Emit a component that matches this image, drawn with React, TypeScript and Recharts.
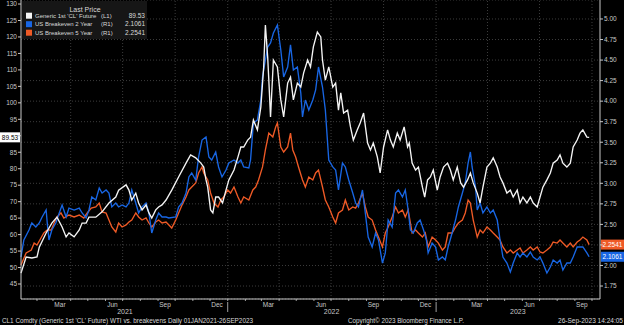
import { LineChart, Line, XAxis, YAxis, CartesianGrid, ReferenceLine } from 'recharts'

// days are counted from 1 Jan 2021
const wtiDays = [3, 12, 22, 31, 35, 47, 57, 66, 75, 82, 87, 96, 105, 110, 117, 122, 134, 145, 157, 169, 174, 187, 192, 197, 204, 209, 215, 222, 227, 232, 239, 244, 250, 257, 267, 279, 292, 300, 309, 318, 323, 327, 330, 335, 339, 344, 349, 356, 362, 367, 376, 383, 388, 393, 400, 405, 410, 417, 423, 428, 431, 435, 437, 440, 445, 452, 458, 463, 470, 475, 480, 487, 493, 498, 505, 510, 515, 522, 528, 531, 536, 542, 549, 554, 559, 563, 568, 575, 580, 585, 592, 597, 603, 610, 615, 620, 627, 632, 638, 645, 650, 655, 662, 667, 674, 680, 683, 688, 694, 699, 706, 710, 715, 720, 725, 732, 737, 743, 750, 755, 760, 767, 773, 778, 785, 790, 795, 802, 807, 812, 819, 825, 830, 837, 842, 847, 854, 860, 865, 872, 877, 882, 889, 895, 900, 907, 912, 917, 924, 930, 935, 942, 947, 952, 959, 965, 970, 977, 982, 987, 994, 998]
const wtiPrice = [48.3, 53.2, 52.9, 53.2, 56.2, 60.5, 63.5, 65.3, 62.3, 59.3, 60.5, 59.3, 61.4, 63.5, 63.5, 65.3, 65.3, 66.9, 69.6, 71.4, 73.5, 75.1, 73.5, 70.5, 72.6, 69.6, 67.5, 69.0, 66.6, 65.0, 67.5, 68.4, 69.0, 70.5, 73.5, 77.5, 81.7, 84.2, 83.3, 81.7, 80.5, 76.6, 74.4, 67.5, 66.6, 71.4, 71.4, 69.6, 73.5, 76.6, 79.6, 83.6, 86.6, 86.6, 88.7, 89.6, 94.8, 91.8, 98.7, 110.9, 123.6, 113.9, 106.9, 95.7, 113.0, 110.9, 100.9, 95.7, 106.0, 107.8, 100.9, 106.0, 104.8, 109.1, 113.0, 110.9, 117.0, 121.5, 120.0, 113.0, 106.9, 110.9, 104.8, 106.0, 97.8, 103.0, 96.9, 97.8, 92.7, 88.7, 91.8, 93.9, 96.9, 87.8, 85.7, 87.8, 83.6, 78.7, 86.6, 91.8, 88.7, 86.6, 90.8, 88.7, 92.7, 86.6, 87.8, 81.7, 79.6, 80.5, 74.4, 71.4, 76.6, 77.5, 79.6, 73.5, 77.5, 80.5, 81.7, 79.6, 76.6, 80.5, 75.7, 74.4, 76.6, 78.7, 75.7, 72.6, 69.6, 74.4, 80.5, 81.7, 83.3, 80.5, 77.5, 75.7, 72.6, 73.5, 71.4, 73.5, 69.6, 71.4, 69.6, 71.4, 69.6, 68.4, 71.4, 74.4, 76.6, 78.7, 81.7, 82.6, 84.2, 81.7, 80.5, 81.7, 86.6, 88.7, 90.8, 91.8, 89.6, 89.53]

const be2Days = [3, 8, 17, 22, 29, 35, 40, 47, 49, 52, 57, 64, 70, 75, 82, 87, 96, 105, 110, 117, 122, 127, 134, 140, 145, 152, 157, 162, 169, 174, 180, 187, 192, 197, 204, 209, 215, 222, 227, 232, 239, 244, 250, 257, 262, 274, 279, 285, 292, 297, 302, 309, 314, 320, 327, 332, 337, 344, 349, 355, 362, 367, 376, 383, 388, 393, 402, 405, 410, 417, 423, 426, 428, 435, 440, 445, 452, 458, 463, 470, 475, 480, 487, 493, 496, 501, 507, 514, 519, 524, 531, 536, 542, 549, 554, 559, 566, 571, 577, 584, 589, 594, 601, 606, 611, 618, 624, 629, 636, 641, 646, 653, 659, 664, 671, 676, 681, 685, 690, 697, 702, 708, 713, 716, 723, 729, 734, 741, 746, 751, 758, 764, 769, 776, 781, 786, 790, 793, 799, 802, 807, 812, 819, 825, 830, 837, 842, 847, 854, 860, 865, 872, 877, 882, 889, 895, 900, 907, 912, 917, 924, 930, 935, 942, 947, 952, 959, 965, 970, 977, 982, 987, 994, 998]
const be2Rate = [2.103, 2.31, 2.432, 2.517, 2.468, 2.517, 2.59, 2.675, 2.517, 2.31, 2.432, 2.517, 2.639, 2.736, 2.59, 2.699, 2.675, 2.699, 2.639, 2.578, 2.675, 2.833, 2.797, 2.943, 2.882, 2.919, 2.882, 2.712, 2.76, 2.712, 2.736, 2.712, 2.76, 2.919, 2.76, 2.639, 2.712, 2.76, 2.639, 2.395, 2.553, 2.639, 2.59, 2.59, 2.578, 2.59, 2.712, 2.76, 2.882, 3.077, 3.126, 3.04, 3.32, 3.527, 3.564, 3.32, 3.284, 3.381, 3.199, 3.077, 3.162, 3.247, 3.284, 3.247, 3.284, 3.199, 3.186, 3.284, 3.734, 3.771, 4.014, 4.294, 4.379, 4.659, 4.708, 4.83, 4.927, 4.623, 4.294, 4.416, 4.684, 4.379, 4.416, 4.099, 3.807, 4.014, 3.892, 4.014, 4.136, 4.416, 4.172, 3.892, 3.284, 3.199, 3.162, 2.919, 3.247, 3.199, 3.04, 2.882, 2.76, 2.712, 2.919, 2.639, 2.346, 2.225, 2.395, 2.31, 2.03, 2.152, 2.553, 2.468, 2.882, 2.919, 2.833, 2.919, 2.675, 2.432, 2.395, 2.517, 2.553, 2.432, 2.31, 2.152, 2.273, 2.225, 2.067, 2.103, 2.067, 2.225, 2.395, 2.553, 2.712, 2.882, 3.004, 3.247, 3.381, 3.199, 2.955, 2.675, 2.76, 2.639, 2.712, 2.639, 2.675, 2.553, 2.31, 2.103, 2.03, 1.92, 2.03, 2.152, 2.103, 2.152, 2.103, 2.164, 2.103, 2.067, 2.103, 2.03, 1.908, 1.981, 2.067, 2.03, 2.067, 1.945, 2.03, 2.03, 2.103, 2.225, 2.225, 2.225, 2.152, 2.1061]

const be5Days = [3, 12, 21, 26, 31, 38, 43, 49, 56, 61, 66, 73, 78, 87, 96, 105, 113, 119, 126, 134, 140, 145, 152, 157, 162, 169, 174, 180, 187, 192, 197, 204, 209, 215, 222, 227, 232, 239, 244, 250, 257, 262, 267, 274, 279, 285, 292, 297, 302, 309, 314, 320, 323, 330, 335, 341, 348, 353, 358, 365, 370, 376, 383, 388, 393, 402, 409, 414, 419, 426, 431, 437, 444, 449, 452, 458, 463, 470, 475, 479, 484, 489, 496, 501, 507, 514, 519, 524, 531, 536, 542, 549, 554, 559, 566, 571, 577, 584, 589, 594, 601, 606, 611, 618, 624, 629, 636, 641, 646, 653, 659, 664, 671, 676, 681, 688, 694, 699, 706, 711, 716, 723, 729, 734, 741, 746, 751, 758, 764, 769, 776, 781, 786, 790, 795, 802, 807, 812, 819, 825, 830, 837, 842, 847, 854, 860, 865, 872, 877, 882, 889, 895, 900, 907, 912, 917, 924, 930, 935, 942, 947, 952, 959, 965, 970, 977, 982, 987, 994, 998]
const be5Rate = [2.006, 2.152, 2.188, 2.273, 2.249, 2.334, 2.395, 2.432, 2.432, 2.517, 2.59, 2.639, 2.578, 2.614, 2.59, 2.614, 2.578, 2.639, 2.699, 2.712, 2.76, 2.651, 2.639, 2.553, 2.468, 2.407, 2.517, 2.468, 2.493, 2.529, 2.553, 2.639, 2.59, 2.553, 2.578, 2.517, 2.468, 2.529, 2.553, 2.517, 2.529, 2.493, 2.456, 2.553, 2.639, 2.736, 2.833, 2.919, 2.955, 3.004, 3.126, 3.199, 3.126, 3.04, 2.882, 2.76, 2.712, 2.797, 2.833, 2.919, 2.882, 2.955, 2.833, 2.76, 2.833, 2.797, 2.919, 2.955, 3.04, 3.199, 3.406, 3.612, 3.564, 3.686, 3.734, 3.442, 3.381, 3.442, 3.612, 3.406, 3.32, 3.199, 3.04, 2.955, 3.077, 3.04, 3.126, 3.162, 2.955, 2.797, 2.712, 2.59, 2.517, 2.639, 2.675, 2.797, 2.675, 2.712, 2.699, 2.76, 2.882, 2.712, 2.59, 2.553, 2.432, 2.346, 2.225, 2.395, 2.468, 2.59, 2.712, 2.639, 2.675, 2.59, 2.675, 2.395, 2.432, 2.395, 2.346, 2.395, 2.225, 2.346, 2.31, 2.273, 2.188, 2.225, 2.395, 2.395, 2.468, 2.517, 2.553, 2.639, 2.797, 2.76, 2.553, 2.346, 2.432, 2.395, 2.468, 2.432, 2.395, 2.346, 2.31, 2.225, 2.152, 2.188, 2.152, 2.188, 2.213, 2.152, 2.188, 2.225, 2.188, 2.225, 2.164, 2.152, 2.188, 2.225, 2.286, 2.273, 2.31, 2.273, 2.225, 2.273, 2.225, 2.286, 2.31, 2.346, 2.31, 2.2541]

const wtiTicks = [45, 50, 55, 60, 65, 70, 75, 80, 85, 90, 95, 100, 105, 110, 115, 120, 125, 130]
const beTicks = [1.75, 2.0, 2.25, 2.5, 2.75, 3.0, 3.25, 3.5, 3.75, 4.0, 4.25, 4.5, 4.75, 5.0]
const monthNames = ['Jan', 'Feb', 'Mar', 'Apr', 'May', 'Jun', 'Jul', 'Aug', 'Sep', 'Oct', 'Nov', 'Dec']
const yearLabels = ['2021', '2022', '2023']
const yearMids = [185, 547, 873]

const WHITE = '#f4f4f4'
const BLUE = '#1866e4'
const ORANGE = '#ef5a26'
const AXIS = '#c8c8c8'
const GRID = '#3c3c3c'

const T0 = Date.UTC(2021, 0, 1)
const dayOf = (y: number, m: number, d: number) => Math.round((Date.UTC(y, m, d) - T0) / 86400000)

const monthStarts: number[] = []
const monthMids: number[] = []
const quarterStarts: number[] = []
for (let y = 2021; y <= 2023; y++) {
  for (let m = 0; m < 12; m++) {
    const s = dayOf(y, m, 1)
    if (s >= 3 && s <= 1017) {
      monthStarts.push(s)
      if (m % 3 === 0) quarterStarts.push(s)
    }
    const mid = dayOf(y, m, 15)
    if (m % 3 === 2 && mid <= 1010) monthMids.push(mid)
  }
}
const xTicks = [...monthStarts, ...monthMids, ...yearMids]

function DateTick(props: any) {
  const { x, y, payload } = props
  const v = payload.value
  const yi = yearMids.indexOf(v)
  if (yi >= 0) {
    return (
      <text x={x} y={y + 15} textAnchor="middle" fill={AXIS} fontSize={7}>
        {yearLabels[yi]}
      </text>
    )
  }
  const m = new Date(T0 + v * 86400000).getUTCMonth()
  if (monthMids.includes(v)) {
    return (
      <text x={x - 1} y={y + 8} textAnchor="middle" fill={AXIS} fontSize={6.5}>
        {monthNames[m]}
      </text>
    )
  }
  return (
    <g>
      <line x1={x} x2={x} y1={y} y2={y + 2} stroke={AXIS} strokeWidth={0.8} />
      {m === 0 && <line x1={x} x2={x} y1={y + 3} y2={y + 13} stroke={AXIS} strokeWidth={0.8} />}
    </g>
  )
}

function LeftTag(props: any) {
  const { viewBox, text } = props
  const cy = viewBox.y
  return (
    <g>
      <rect x={0} y={cy - 5} width={20} height={10} fill="#fff" />
      <text x={10} y={cy + 2.3} textAnchor="middle" fontSize={6.5} fill="#000">{text}</text>
    </g>
  )
}

function RightTag(props: any) {
  const { viewBox, text, color } = props
  const x0 = viewBox.x + viewBox.width + 1
  const cy = viewBox.y
  return (
    <g>
      <rect x={x0} y={cy - 5} width={23} height={10} fill={color} />
      <text x={x0 + 11.5} y={cy + 2.3} textAnchor="middle" fontSize={6.5} fill="#fff">{text}</text>
    </g>
  )
}

const legendRows = [
  { name: "Generic 1st 'CL' Future", axis: '(L1)', last: '89.53', color: WHITE },
  { name: 'US Breakeven 2 Year', axis: '(R1)', last: '2.1061', color: BLUE },
  { name: 'US Breakeven 5 Year', axis: '(R1)', last: '2.2541', color: ORANGE },
]

export default function App() {
  const wti = wtiDays.map((d, i) => ({ d, v: wtiPrice[i] }))
  const be2 = be2Days.map((d, i) => ({ d, v: be2Rate[i] }))
  const be5 = be5Days.map((d, i) => ({ d, v: be5Rate[i] }))
  const font = '"Liberation Sans", Arial, sans-serif'

  return (
    <div style={{ position: 'relative', width: 624, height: 325, background: '#000', fontFamily: font }}>
      <style>{'body{margin:0;background:#000}'}</style>
      <LineChart width={624} height={325} margin={{ top: 0, right: 0, bottom: 0, left: 0 }} style={{ fontFamily: font }}>
        <CartesianGrid yAxisId="r" vertical={false} stroke={GRID} strokeDasharray="1 2" />
        {quarterStarts.map((q) => (
          <ReferenceLine key={q} x={q} yAxisId="r" stroke={GRID} strokeDasharray="1 2" />
        ))}
        <XAxis
          dataKey="d"
          type="number"
          domain={[3, 1017]}
          ticks={xTicks}
          interval={0}
          tick={<DateTick />}
          tickLine={false}
          tickSize={0}
          tickMargin={0}
          height={26}
          stroke={AXIS}
          allowDuplicatedCategory={false}
        />
        {/* 90 and 2.25 sit under the last-price tags */}
        <YAxis
          yAxisId="l"
          domain={[40.45, 131.22]}
          ticks={wtiTicks}
          interval={0}
          width={21}
          tickSize={3}
          tickMargin={1}
          stroke={AXIS}
          tick={{ fill: AXIS, fontSize: 6.5 }}
          tickFormatter={(v: number) => (v === 90 ? '' : String(v))}
        />
        <YAxis
          yAxisId="r"
          orientation="right"
          domain={[1.592, 5.231]}
          ticks={beTicks}
          interval={0}
          width={24}
          tickSize={3}
          tickMargin={1}
          stroke={AXIS}
          tick={{ fill: AXIS, fontSize: 6.5 }}
          tickFormatter={(v: number) => (v === 2.25 ? '' : v.toFixed(2))}
        />
        <Line data={be5} dataKey="v" yAxisId="r" stroke={ORANGE} strokeWidth={1.35} dot={false} isAnimationActive={false} />
        <Line data={be2} dataKey="v" yAxisId="r" stroke={BLUE} strokeWidth={1.35} dot={false} isAnimationActive={false} />
        <Line data={wti} dataKey="v" yAxisId="l" stroke={WHITE} strokeWidth={1.35} dot={false} isAnimationActive={false} />
        <ReferenceLine yAxisId="l" y={89.53} stroke="none" ifOverflow="visible" label={<LeftTag text="89.53" />} />
        <ReferenceLine yAxisId="r" y={2.2541} stroke="none" ifOverflow="visible" label={<RightTag text="2.2541" color={ORANGE} />} />
        <ReferenceLine yAxisId="r" y={2.1061} stroke="none" ifOverflow="visible" label={<RightTag text="2.1061" color={BLUE} />} />
      </LineChart>

      <svg width={624} height={325} style={{ position: 'absolute', left: 0, top: 0, pointerEvents: 'none' }}>
        <rect x={22} y={1} width={125} height={38} fill="#161616" />
        <text x={85} y={12} textAnchor="middle" fontSize={7} fill="#d8d8d8">Last Price</text>
        {legendRows.map((r, i) => {
          const cy = 15.7 + i * 8.5
          return (
            <g key={r.name}>
              <rect x={26} y={cy - 3} width={6} height={6} fill={r.color} />
              <text x={35} y={cy + 2.2} fontSize={6} fill="#d8d8d8">{r.name}</text>
              <text x={101} y={cy + 2.2} fontSize={6} fill="#d8d8d8">{r.axis}</text>
              <text x={145} y={cy + 2.2} fontSize={6.5} fill="#d8d8d8" textAnchor="end">{r.last}</text>
            </g>
          )
        })}
        <text x={2} y={323} fontSize={6.5} fill="#d8d8d8" textLength={251} lengthAdjust="spacingAndGlyphs">
          CL1 Comdty (Generic 1st 'CL' Future) WTI vs. breakevens  Daily 01JAN2021-26SEP2023
        </text>
        <text x={348} y={323} fontSize={6.5} fill="#d8d8d8" textLength={116} lengthAdjust="spacingAndGlyphs">
          Copyright© 2023 Bloomberg Finance L.P.
        </text>
        <text x={558} y={323} fontSize={6.5} fill="#d8d8d8" textLength={65} lengthAdjust="spacingAndGlyphs">
          26-Sep-2023 14:24:05
        </text>
      </svg>
    </div>
  )
}
